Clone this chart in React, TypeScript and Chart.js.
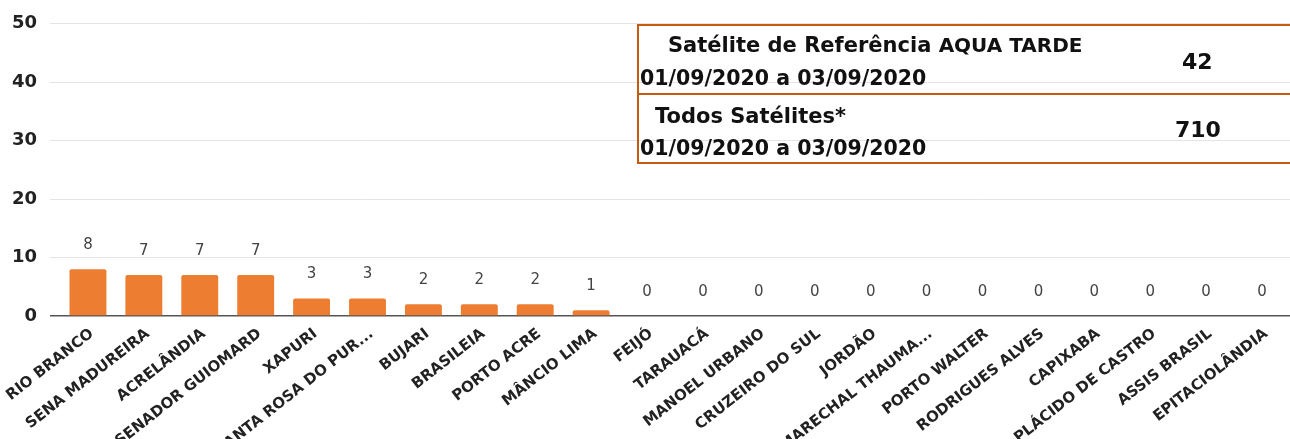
import React, { useEffect, useRef } from "react";
import { Chart, registerables } from "chart.js";

Chart.register(...registerables);

const categories: string[] = [
  "RIO BRANCO",
  "SENA MADUREIRA",
  "ACRELÂNDIA",
  "SENADOR GUIOMARD",
  "XAPURI",
  "SANTA ROSA DO PUR...",
  "BUJARI",
  "BRASILEIA",
  "PORTO ACRE",
  "MÂNCIO LIMA",
  "FEIJÓ",
  "TARAUACÁ",
  "MANOEL URBANO",
  "CRUZEIRO DO SUL",
  "JORDÃO",
  "MARECHAL THAUMA...",
  "PORTO WALTER",
  "RODRIGUES ALVES",
  "CAPIXABA",
  "PLÁCIDO DE CASTRO",
  "ASSIS BRASIL",
  "EPITACIOLÂNDIA",
];

const focos: number[] = [8, 7, 7, 7, 3, 3, 2, 2, 2, 1, 0, 0, 0, 0, 0, 0, 0, 0, 0, 0, 0, 0];

const yTicks: number[] = [0, 10, 20, 30, 40, 50];

const tableTitle1 = "Satélite de Referência ";
const tableTitle1b = "AQUA TARDE";
const tablePeriod = "01/09/2020 a 03/09/2020";
const tableValue1 = "42";
const tableTitle2 = "Todos Satélites*";
const tableValue2 = "710";

const valueLabels = {
  id: "valueLabels",
  afterDatasetsDraw(chart: any) {
    const ctx = chart.ctx;
    const meta = chart.getDatasetMeta(0);
    ctx.save();
    ctx.font = "15px 'DejaVu Sans'";
    ctx.fillStyle = "#444444";
    ctx.textAlign = "center";
    ctx.textBaseline = "middle";
    meta.data.forEach((el: any, i: number) => {
      const v = chart.data.datasets[0].data[i];
      ctx.fillText(String(v), el.x, el.y - 24);
    });
    ctx.restore();
  },
};

export default function App() {
  const canvasRef = useRef<HTMLCanvasElement | null>(null);

  useEffect(() => {
    if (!canvasRef.current) return;
    const chart = new Chart(canvasRef.current, {
      type: "bar",
      data: {
        labels: categories,
        datasets: [
          {
            data: focos,
            backgroundColor: "#ed7d31",
            borderRadius: 2,
            categoryPercentage: 1,
            barPercentage: 0.66,
          },
        ],
      },
      options: {
        animation: false,
        responsive: false,
        devicePixelRatio: 1,
        layout: { padding: { top: 21, left: 0, right: 0, bottom: 0 } },
        plugins: {
          legend: { display: false },
          tooltip: { enabled: false },
        },
        scales: {
          x: {
            grid: { display: false },
            border: { display: false },
            ticks: {
              autoSkip: false,
              minRotation: 38,
              maxRotation: 38,
              padding: 1,
              labelOffset: 4,
              color: "#222222",
              font: { family: "'DejaVu Sans'", weight: "bold", size: 15 },
            },
            afterFit(scale: any) {
              scale.height = 123;
            },
          },
          y: {
            min: 0,
            max: 50,
            afterBuildTicks(scale: any) {
              scale.ticks = yTicks.map((v) => ({ value: v }));
            },
            border: { display: false },
            grid: {
              color: (c: any) => (c.tick && c.tick.value === 0 ? "#555555" : "#e4e4e4"),
              lineWidth: (c: any) => (c.tick && c.tick.value === 0 ? 1.5 : 1),
              drawTicks: true,
              tickLength: 10,
            },
            ticks: {
              padding: 13,
              color: "#222222",
              font: { family: "'DejaVu Sans'", weight: "bold", size: 18 },
            },
            afterFit(scale: any) {
              scale.width = 60;
            },
          },
        },
      },
      plugins: [valueLabels],
    });
    return () => chart.destroy();
  }, []);

  const txt: React.CSSProperties = {
    position: "absolute",
    fontFamily: "'DejaVu Sans', sans-serif",
    fontWeight: "bold",
    color: "#111111",
    lineHeight: 1,
    whiteSpace: "nowrap",
  };

  return (
    <div
      style={{
        position: "fixed",
        left: 0,
        top: 0,
        width: 1290,
        height: 439,
        overflow: "hidden",
        background: "#ffffff",
      }}
    >
      <canvas ref={canvasRef} width={1290} height={439} style={{ display: "block" }} />
      <div
        style={{
          position: "absolute",
          left: 637,
          top: 24,
          width: 700,
          height: 136,
          border: "2px solid #c55a11",
        }}
      />
      <div
        style={{
          position: "absolute",
          left: 637,
          top: 93,
          width: 700,
          height: 2,
          background: "#c55a11",
        }}
      />
      <div style={{ ...txt, left: 668, top: 35, fontSize: 21 }}>
        {tableTitle1}
        <span style={{ fontSize: 20 }}>{tableTitle1b}</span>
      </div>
      <div style={{ ...txt, left: 640, top: 68, fontSize: 20.5 }}>{tablePeriod}</div>
      <div style={{ ...txt, left: 1182, top: 51, fontSize: 22 }}>{tableValue1}</div>
      <div style={{ ...txt, left: 655, top: 106, fontSize: 21 }}>{tableTitle2}</div>
      <div style={{ ...txt, left: 640, top: 138, fontSize: 20.5 }}>{tablePeriod}</div>
      <div style={{ ...txt, left: 1175, top: 119, fontSize: 22 }}>{tableValue2}</div>
    </div>
  );
}
